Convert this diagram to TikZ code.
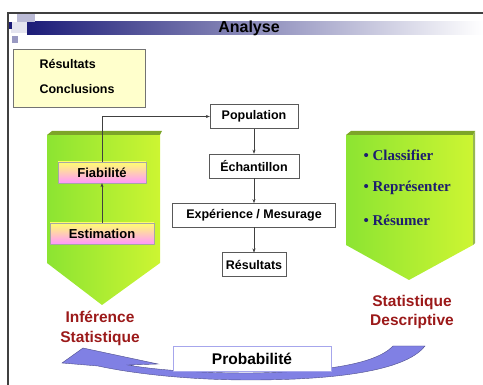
\documentclass[tikz,border=0pt]{standalone}
\usepackage{fontspec}
\setmainfont{Liberation Sans}
\newfontfamily\timesbf{Liberation Serif}
\usetikzlibrary{positioning, arrows.meta}

\definecolor{navy}{RGB}{28,28,120}
\definecolor{cream}{RGB}{255,255,204}
\definecolor{leafL}{RGB}{140,228,50}
\definecolor{leafR}{RGB}{205,245,50}
\definecolor{bevel}{RGB}{125,165,40}
\definecolor{pinkish}{RGB}{255,150,255}
\definecolor{lemon}{RGB}{255,255,110}
\definecolor{brick}{RGB}{155,25,25}
\definecolor{lavender}{RGB}{128,128,228}
\definecolor{ink}{RGB}{30,30,110}

\begin{document}
\begin{tikzpicture}[x=1pt, y=-1pt,
      node distance=25pt,
      box/.style={draw=black!65, fill=white, minimum height=24pt, inner sep=2pt, font=\bfseries\fontsize{12.5}{15}\selectfont},
      tag/.style={draw=black!35, top color=lemon, bottom color=pinkish, minimum height=21pt, inner sep=2pt, font=\bfseries\fontsize{13}{15}\selectfont},
      redtxt/.style={text=brick, align=center, font=\bfseries\fontsize{15.5}{19.5}\selectfont},
      item/.style={anchor=west, text=ink, font=\timesbf\bfseries\fontsize{15}{18}\selectfont},
      arr/.style={-{Stealth[length=4pt, width=3pt]}, black!75}]
      \useasboundingbox (0,0) rectangle (483,385);
      \shade[left color=navy, right color=white] (27,22) rectangle (483,35);
      \fill[navy!30] (17,14) rectangle (35,22);
      \fill[navy!12] (11,22) rectangle (27,33);
      \fill[navy!45] (12,36) rectangle (18,43);
      \fill[navy] (7,22) rectangle (12,29);
      \draw[black!75, line width=1.6pt] (8,385) -- (8,13) -- (483,13);
      \node[font=\bfseries\fontsize{16}{19}\selectfont] (title) at (249,28.5) {Analyse};

      \node[draw=black!55, fill=cream, minimum width=132pt, minimum height=58pt] (resbox) at (79,78) {};
      \node[anchor=west, font=\bfseries\fontsize{12.5}{15}\selectfont] (res1) at (36,64) {Résultats};
      \node[anchor=west, font=\bfseries\fontsize{12.5}{15}\selectfont] (concl) at (36,89) {Conclusions};

      \shade[left color=leafL, right color=leafR] (47,135) -- (160,135) -- (160,263) -- (102,305) -- (47,263) -- cycle;
      \fill[bevel] (47,135) -- (52,131) -- (162,131) -- (160,135) -- cycle;
      \shade[left color=leafL, right color=leafR] (346,135) -- (473,135) -- (473,245) -- (409,280) -- (346,245) -- cycle;
      \fill[bevel] (346,135) -- (351,131) -- (475,131) -- (473,135) -- cycle;
      \fill[bevel!80] (473,135) -- (475,131) -- (475,243) -- (473,245) -- cycle;

      \node[box, minimum width=88pt]               (pop)   at (254,116.5) {Population};
      \node[box, minimum width=90pt, below=of pop]  (ech)   {Échantillon};
      \node[box, minimum width=163pt, below=of ech] (exper) {Expérience / Mesurage};
      \node[box, minimum width=64pt, below=of exper] (res)  {Résultats};
      \draw[arr] (pop) -- (ech);
      \draw[arr] (ech) -- (exper);
      \draw[arr] (exper) -- (res);

      \node[tag, minimum width=88pt]  (fiab)  at (102,172.5) {Fiabilité};
      \node[tag, minimum width=104pt] (estim) at (102,233.5) {Estimation};
      \draw[arr] (estim) -- (fiab);
      \draw[arr] (fiab.north) |- (pop.west);

      \node[item] (cls)   at (360,155) {\textbullet\ Classifier};
      \node[item] (repr)  at (360,188) {\textbullet\ Représenter};
      \node[item] (resum) at (360,220) {\textbullet\ Résumer};

      \node[redtxt] (infer) at (100,328.5) {Inférence\\Statistique};
      \node[redtxt] (descr) at (412,312) {Statistique\\Descriptive};

      \filldraw[fill=lavender, draw=lavender!60!black, line width=0.4pt]
        (393,346) -- (425,346) .. controls (405,372) and (330,380) .. (250,380)
        .. controls (180,380) and (125,372) .. (98,366) -- (62,363) -- (83,348)
        -- (158,364) -- (128,365) .. controls (150,369) and (190,373) .. (250,373)
        .. controls (320,372) and (375,365) .. (393,346) -- cycle;
      \node[draw=lavender!70, fill=white, line width=0.8pt, minimum width=158pt, minimum height=25pt,
        font=\bfseries\fontsize{15.5}{18}\selectfont] (proba) at (252,358.5) {Probabilité};
    \end{tikzpicture}
\end{document}
